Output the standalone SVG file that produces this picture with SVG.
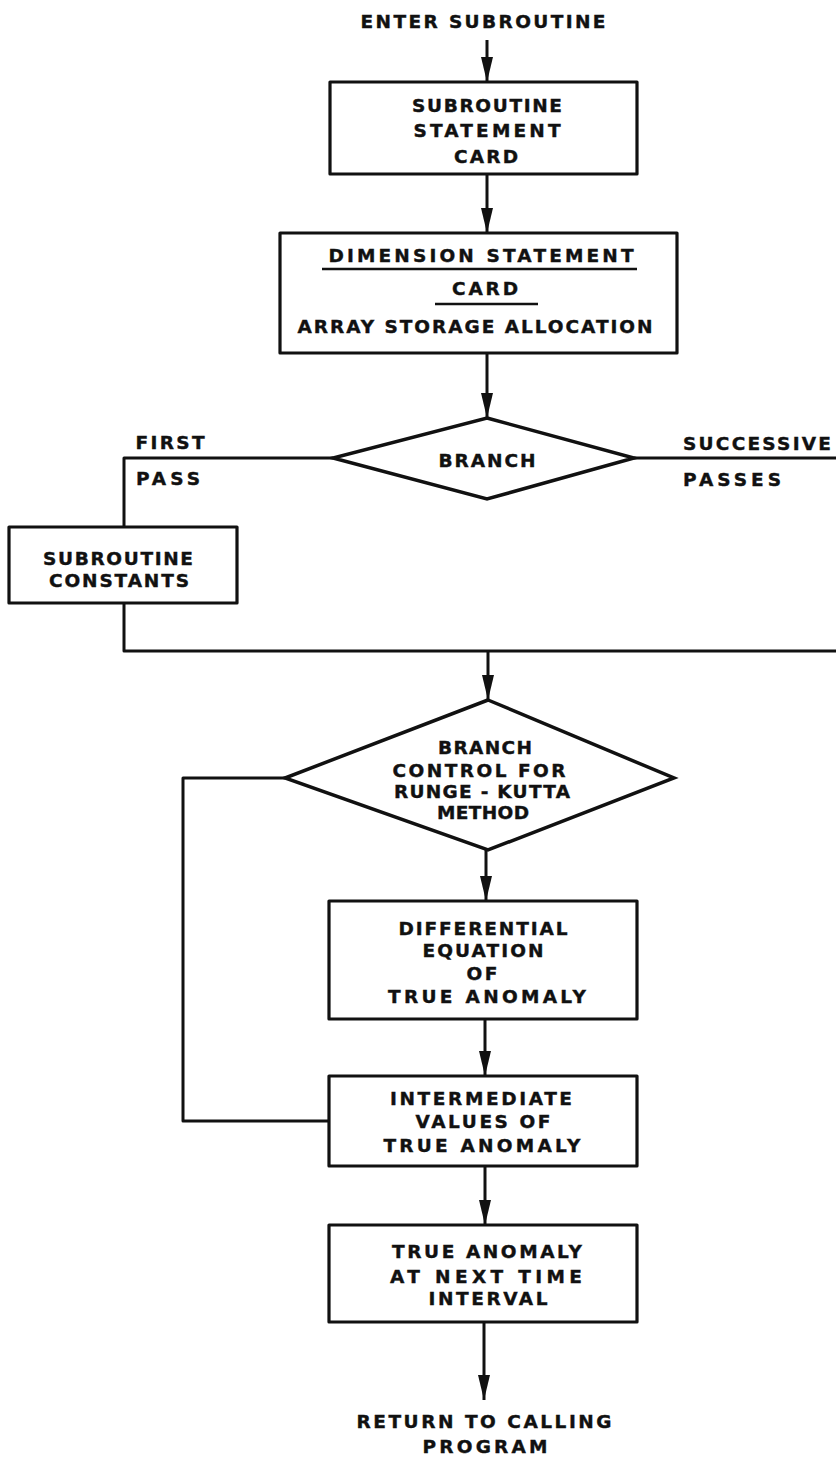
<svg xmlns="http://www.w3.org/2000/svg" width="836" height="1457" viewBox="0 0 836 1457">
  <style>
    .box { fill: #fff; stroke: #111; stroke-width: 3.2; stroke-linejoin: round; }
    .dia { fill: #fff; stroke: #111; stroke-width: 3.5; stroke-linejoin: miter; }
    .wire { fill: none; stroke: #111; stroke-width: 3; stroke-linejoin: round; }
    .ul { stroke: #111; stroke-width: 2.5; }
    text { font-family: "DejaVu Sans", "Liberation Sans", Arial, sans-serif; font-weight: bold; font-size: 18.5px; fill: #111; stroke: #111; stroke-width: 0.4; text-anchor: middle; }
  </style>
  <defs>
    <!-- narrow solid arrowhead, tip at the end of the line -->
    <marker id="head" markerUnits="userSpaceOnUse" markerWidth="26" markerHeight="14" refX="25" refY="7" orient="auto" viewBox="0 0 26 14">
      <path d="M0,1 L25,7 L0,13 Z" fill="#111"/>
    </marker>
  </defs>
  <rect width="836" height="1457" fill="#fff"/>

  <!-- connectors -->
  <g id="connectors">
    <line class="wire" x1="487" y1="40" x2="487" y2="82" marker-end="url(#head)"/>
    <line class="wire" x1="487" y1="175" x2="487" y2="233" marker-end="url(#head)"/>
    <line class="wire" x1="487" y1="353" x2="487" y2="418" marker-end="url(#head)"/>
    <polyline class="wire" points="333,458 124,458 124,527"/>
    <line class="wire" x1="634" y1="458" x2="836" y2="458"/>
    <polyline class="wire" points="124,603 124,651 836,651"/>
    <line class="wire" x1="488" y1="651" x2="488" y2="700" marker-end="url(#head)"/>
    <line class="wire" x1="486" y1="850" x2="486" y2="901" marker-end="url(#head)"/>
    <polyline class="wire" points="285,778 183,778 183,1121 329,1121"/>
    <line class="wire" x1="485" y1="1019" x2="485" y2="1076" marker-end="url(#head)"/>
    <line class="wire" x1="485" y1="1166" x2="485" y2="1225" marker-end="url(#head)"/>
    <line class="wire" x1="484" y1="1322" x2="484" y2="1400" marker-end="url(#head)"/>
  </g>

  <g id="enter">
    <text x="483" y="28" textLength="245" lengthAdjust="spacing">ENTER SUBROUTINE</text>
  </g>

  <g id="subroutine-card">
    <rect class="box" x="330" y="82" width="307" height="92"/>
    <text x="487" y="112" textLength="150" lengthAdjust="spacing">SUBROUTINE</text>
    <text x="487" y="137" textLength="147" lengthAdjust="spacing">STATEMENT</text>
    <text x="486" y="163" textLength="64" lengthAdjust="spacing">CARD</text>
  </g>

  <g id="dimension-card">
    <rect class="box" x="280" y="233" width="397" height="120"/>
    <text x="481" y="262" textLength="305" lengthAdjust="spacing">DIMENSION STATEMENT</text>
    <line class="ul" x1="322" y1="269" x2="637" y2="269"/>
    <text x="485" y="295" textLength="66" lengthAdjust="spacing">CARD</text>
    <line class="ul" x1="435" y1="304" x2="538" y2="304"/>
    <text x="475" y="333" textLength="355" lengthAdjust="spacing">ARRAY STORAGE ALLOCATION</text>
  </g>

  <g id="branch">
    <polygon class="dia" points="487,418 634,458 487,499 333,458"/>
    <text x="487" y="467" textLength="97" lengthAdjust="spacing">BRANCH</text>
    <text x="170" y="449" textLength="69" lengthAdjust="spacing">FIRST</text>
    <text x="168" y="485" textLength="64" lengthAdjust="spacing">PASS</text>
    <text x="757" y="450" textLength="148" lengthAdjust="spacing">SUCCESSIVE</text>
    <text x="732" y="486" textLength="98" lengthAdjust="spacing">PASSES</text>
  </g>

  <g id="subroutine-constants">
    <rect class="box" x="9" y="527" width="228" height="76"/>
    <text x="118" y="565" textLength="150" lengthAdjust="spacing">SUBROUTINE</text>
    <text x="119" y="587" textLength="140" lengthAdjust="spacing">CONSTANTS</text>
  </g>

  <g id="runge-kutta-branch">
    <polygon class="dia" points="488,700 674,778 488,850 285,778"/>
    <text x="485" y="754" textLength="94" lengthAdjust="spacing">BRANCH</text>
    <text x="479" y="777" textLength="173" lengthAdjust="spacing">CONTROL FOR</text>
    <text x="482" y="798" textLength="176" lengthAdjust="spacing">RUNGE - KUTTA</text>
    <text x="483" y="819" textLength="92" lengthAdjust="spacing">METHOD</text>
  </g>

  <g id="differential-equation">
    <rect class="box" x="329" y="901" width="308" height="118"/>
    <text x="483" y="935" textLength="169" lengthAdjust="spacing">DIFFERENTIAL</text>
    <text x="483" y="957" textLength="121" lengthAdjust="spacing">EQUATION</text>
    <text x="482" y="980" textLength="31" lengthAdjust="spacing">OF</text>
    <text x="487" y="1003" textLength="198" lengthAdjust="spacing">TRUE ANOMALY</text>
  </g>

  <g id="intermediate-values">
    <rect class="box" x="329" y="1076" width="308" height="90"/>
    <text x="481" y="1105" textLength="182" lengthAdjust="spacing">INTERMEDIATE</text>
    <text x="483" y="1128" textLength="135" lengthAdjust="spacing">VALUES OF</text>
    <text x="482" y="1152" textLength="197" lengthAdjust="spacing">TRUE ANOMALY</text>
  </g>

  <g id="next-interval">
    <rect class="box" x="329" y="1225" width="308" height="97"/>
    <text x="487" y="1258" textLength="190" lengthAdjust="spacing">TRUE ANOMALY</text>
    <text x="486" y="1283" textLength="192" lengthAdjust="spacing">AT NEXT TIME</text>
    <text x="488" y="1305" textLength="119" lengthAdjust="spacing">INTERVAL</text>
  </g>

  <g id="return">
    <text x="484" y="1428" textLength="255" lengthAdjust="spacing">RETURN TO CALLING</text>
    <text x="485" y="1453" textLength="125" lengthAdjust="spacing">PROGRAM</text>
  </g>
</svg>
